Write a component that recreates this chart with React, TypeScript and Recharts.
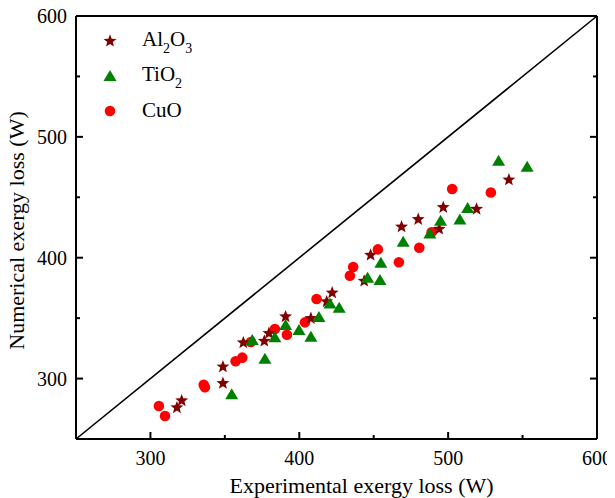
import React from 'react';
import { ScatterChart, Scatter, XAxis, YAxis, ReferenceLine, Legend, Label } from 'recharts';

// ---- data ----
const al2o3X = [317.8, 321, 348.7, 348.7, 362.4, 376.5, 379.6, 390.8, 407.8, 418.4, 422.1, 443.6, 447.9, 468.7, 479.9, 494, 496.7, 519.1, 540.8];
const al2o3Y = [275.9, 281.7, 296.1, 309.8, 329.7, 331.1, 337.4, 351.2, 349.8, 363.6, 371, 380.7, 402.2, 425.6, 431.7, 423.7, 441.6, 440.2, 464.5];

const tio2X = [354.6, 368.4, 376.9, 383.6, 390.8, 399.8, 407.8, 413.2, 420.6, 426.8, 445.9, 454.2, 454.8, 469.8, 487.7, 494.9, 507.9, 513.1, 533.9, 553.1];
const tio2Y = [287, 331.9, 316.4, 334.1, 344.3, 340.2, 334.6, 350.9, 362.2, 358.6, 383.4, 381.5, 395.8, 413.2, 420.1, 430.6, 431.7, 441.1, 480.2, 475.2];

const cuoX = [305.7, 309.8, 335.8, 336.6, 357.2, 361.7, 367.5, 383.6, 391.7, 403.8, 411.6, 434, 436.2, 452.8, 466.9, 480.6, 488.9, 502.7, 528.7];
const cuoY = [277.3, 269, 294.9, 292.8, 314.3, 317.3, 330.2, 341, 336.3, 346.5, 365.8, 385.1, 392.3, 406.9, 396.2, 408.2, 421, 456.8, 454];

const axisTicks = [250, 300, 350, 400, 450, 500, 550, 600];
const majorTickLabels = ['300', '400', '500', '600'];
const axisDomain = [250, 600];
const diagonal = [250, 600];

const xTitle = 'Experimental exergy loss (W)';
const yTitle = 'Numerical exergy loss (W)';

const toPoints = (xs: number[], ys: number[]) => xs.map((x, i) => ({ x, y: ys[i] }));

const FONT = '"Liberation Serif", "Times New Roman", Times, serif';
const STAR_COLOR = '#800000';
const TRI_COLOR = '#008000';
const CIRC_COLOR = '#ff0000';

const isMajor = (v: number) => majorTickLabels.includes(String(v));

// ---- marker shapes ----
function starPath(cx: number, cy: number, R: number, r: number) {
  const pts: string[] = [];
  for (let i = 0; i < 10; i++) {
    const rad = i % 2 === 0 ? R : r;
    const a = -Math.PI / 2 + (i * Math.PI) / 5;
    pts.push(`${(cx + rad * Math.cos(a)).toFixed(2)},${(cy + rad * Math.sin(a)).toFixed(2)}`);
  }
  return 'M' + pts.join('L') + 'Z';
}
const StarShape = (props: any) => <path d={starPath(props.cx, props.cy, 6.8, 2.9)} fill={STAR_COLOR} />;
const TriShape = (props: any) => {
  const { cx, cy } = props;
  return <path d={`M${cx},${cy - 6}L${cx + 6.5},${cy + 5}L${cx - 6.5},${cy + 5}Z`} fill={TRI_COLOR} />;
};
const CircShape = (props: any) => <circle cx={props.cx} cy={props.cy} r={5.3} fill={CIRC_COLOR} />;

// ---- ticks ----
const BottomTick = (props: any) => {
  const { x, y, payload } = props;
  const v = payload.value;
  if (v === axisDomain[0]) return <g />;
  const major = isMajor(v);
  return (
    <g>
      <line x1={x} y1={y} x2={x} y2={y - (major ? 7 : 4)} stroke="#000" strokeWidth={2} />
      {major && (
        <text x={x} y={y + 26} textAnchor="middle" fontSize={20} fontFamily={FONT} fill="#000">
          {v}
        </text>
      )}
    </g>
  );
};
const TopTick = (props: any) => {
  const { x, y, payload } = props;
  const v = payload.value;
  if (v === axisDomain[0] || v === axisDomain[1]) return <g />;
  const major = isMajor(v);
  return <line x1={x} y1={y} x2={x} y2={y + (major ? 7 : 4)} stroke="#000" strokeWidth={2} />;
};
const LeftTick = (props: any) => {
  const { x, y, payload } = props;
  const v = payload.value;
  if (v === axisDomain[0]) return <g />;
  const major = isMajor(v);
  return (
    <g>
      <line x1={x} y1={y} x2={x + (major ? 7 : 4)} y2={y} stroke="#000" strokeWidth={2} />
      {major && (
        <text x={x - 9} y={y} dy="0.35em" textAnchor="end" fontSize={20} fontFamily={FONT} fill="#000">
          {v}
        </text>
      )}
    </g>
  );
};
const RightTick = (props: any) => {
  const { x, y, payload } = props;
  const v = payload.value;
  if (v === axisDomain[0] || v === axisDomain[1]) return <g />;
  const major = isMajor(v);
  return <line x1={x} y1={y} x2={x - (major ? 7 : 4)} y2={y} stroke="#000" strokeWidth={2} />;
};

// ---- legend ----
const legendRows = [
  { key: 'al', shape: 'star', parts: [['Al', ''], ['2', 'sub'], ['O', ''], ['3', 'sub']] },
  { key: 'ti', shape: 'tri', parts: [['TiO', ''], ['2', 'sub']] },
  { key: 'cu', shape: 'circ', parts: [['CuO', '']] },
];

const LegendContent = () => (
  <div style={{ fontFamily: FONT, fontSize: 21, color: '#000', lineHeight: '21px' }}>
    {legendRows.map((row) => (
      <div key={row.key} style={{ display: 'flex', alignItems: 'center', height: 35 }}>
        <svg width={16} height={16} style={{ display: 'block' }}>
          {row.shape === 'star' && <StarShape cx={8} cy={8} />}
          {row.shape === 'tri' && <TriShape cx={8} cy={8} />}
          {row.shape === 'circ' && <CircShape cx={8} cy={8} />}
        </svg>
        <span style={{ marginLeft: 24, whiteSpace: 'nowrap' }}>
          {row.parts.map((p, i) =>
            p[1] === 'sub' ? (
              <span key={i} style={{ fontSize: 14, position: 'relative', top: 7 }}>
                {p[0]}
              </span>
            ) : (
              <span key={i}>{p[0]}</span>
            )
          )}
        </span>
      </div>
    ))}
  </div>
);

export default function App() {
  return (
    <div>
      <style>{'.recharts-surface { overflow: visible; }'}</style>
      <ScatterChart width={607} height={490} margin={{ top: 7, right: 17, bottom: 0, left: 0 }}>
        <XAxis
          dataKey="x"
          type="number"
          domain={axisDomain}
          ticks={axisTicks}
          interval={0}
          allowDataOverflow
          height={59}
          tickSize={0}
          tickMargin={0}
          tickLine={false}
          tick={<BottomTick />}
          axisLine={{ stroke: '#000', strokeWidth: 2 }}
        >
          <Label
            content={(p: any) => {
              const vb = p.viewBox;
              return (
                <text x={vb.x + vb.width / 2 + 25} y={vb.y + 54} textAnchor="middle" fontSize={22} fontFamily={FONT} fill="#000">
                  {xTitle}
                </text>
              );
            }}
          />
        </XAxis>
        <XAxis
          xAxisId="top"
          orientation="top"
          type="number"
          domain={axisDomain}
          ticks={axisTicks}
          interval={0}
          allowDataOverflow
          height={1}
          tickSize={0}
          tickMargin={0}
          tickLine={false}
          tick={<TopTick />}
          axisLine={{ stroke: '#000', strokeWidth: 2 }}
        />
        <YAxis
          dataKey="y"
          type="number"
          domain={axisDomain}
          ticks={axisTicks}
          interval={0}
          allowDataOverflow
          width={68}
          tickSize={0}
          tickMargin={0}
          tickLine={false}
          tick={<LeftTick />}
          axisLine={{ stroke: '#000', strokeWidth: 2 }}
        >
          <Label
            content={(p: any) => {
              const vb = p.viewBox;
              const cx = vb.x + 16;
              const cy = vb.y + vb.height / 2 + 3;
              return (
                <text
                  x={cx}
                  y={cy}
                  transform={`rotate(-90 ${cx} ${cy})`}
                  textAnchor="middle"
                  fontSize={22}
                  fontFamily={FONT}
                  fill="#000"
                >
                  {yTitle}
                </text>
              );
            }}
          />
        </YAxis>
        <YAxis
          yAxisId="right"
          orientation="right"
          type="number"
          domain={axisDomain}
          ticks={axisTicks}
          interval={0}
          allowDataOverflow
          width={1}
          tickSize={0}
          tickMargin={0}
          tickLine={false}
          tick={<RightTick />}
          axisLine={{ stroke: '#000', strokeWidth: 2 }}
        />
        <ReferenceLine
          segment={[
            { x: diagonal[0], y: diagonal[0] },
            { x: diagonal[1], y: diagonal[1] },
          ]}
          stroke="#000"
          strokeWidth={1.6}
          ifOverflow="visible"
        />
        <Scatter name="CuO" data={toPoints(cuoX, cuoY)} shape={CircShape} isAnimationActive={false} />
        <Scatter name="Al2O3" data={toPoints(al2o3X, al2o3Y)} shape={StarShape} isAnimationActive={false} />
        <Scatter name="TiO2" data={toPoints(tio2X, tio2Y)} shape={TriShape} isAnimationActive={false} />
        <Legend
          layout="vertical"
          align="center"
          verticalAlign="middle"
          content={<LegendContent />}
          wrapperStyle={{ left: 94, top: 15, width: 140, height: 105 }}
        />
      </ScatterChart>
    </div>
  );
}
